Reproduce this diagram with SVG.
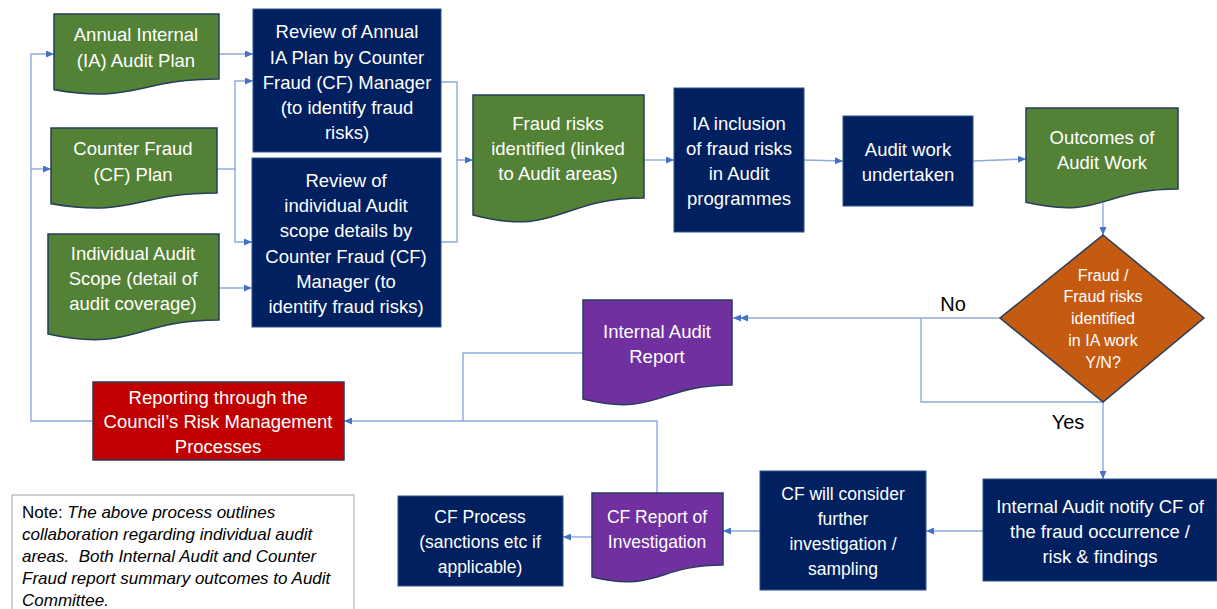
<svg xmlns="http://www.w3.org/2000/svg" width="1217" height="609" viewBox="0 0 1217 609">
<defs>
<style>
.t{font-family:"Liberation Sans",Arial,sans-serif;font-size:18.5px;fill:#fff;text-anchor:middle;dominant-baseline:central}
.s{font-size:17.5px}
.d{font-size:16px}
.lbl{font-family:"Liberation Sans",Arial,sans-serif;font-size:20px;fill:#000;text-anchor:middle;dominant-baseline:central}
.note{font-family:"Liberation Sans",Arial,sans-serif;font-size:17px;fill:#000;white-space:pre}
.green{fill:#538135;stroke:#263d5c;stroke-width:1.5}
.navy{fill:#002060;stroke:#2f528f;stroke-width:1}
.purple{fill:#7030a0;stroke:#263d5c;stroke-width:1.5}
.red{fill:#c00000;stroke:#263d5c;stroke-width:1.5}
.orange{fill:#c55a11;stroke:#263d5c;stroke-width:1.5}
.c{fill:none;stroke:#8faadc;stroke-width:1.4}
</style>
<marker id="a" viewBox="0 0 8 7" refX="8" refY="3.5" markerWidth="8" markerHeight="7" markerUnits="userSpaceOnUse" orient="auto">
<path d="M0,0 L8,3.5 L0,7 Z" fill="#4472c4"/>
</marker>
<marker id="a2" viewBox="-8 0 16 7" refX="8" refY="3.5" markerWidth="16" markerHeight="7" markerUnits="userSpaceOnUse" orient="auto">
<path d="M0,0 L8,3.5 L0,7 Z M-7,0 L1,3.5 L-7,7 Z" fill="#4472c4"/>
</marker>
</defs>
<rect width="1217" height="609" fill="#fff"/>

<g id="connectors">
<path class="c" d="M219,54 H253" marker-end="url(#a)"/>
<path class="c" d="M217,169 H235 V81 H253" marker-end="url(#a)"/>
<path class="c" d="M235,169 V242 H252" marker-end="url(#a)"/>
<path class="c" d="M219,288 H252" marker-end="url(#a)"/>
<path class="c" d="M441,82 H457 V160 H473" marker-end="url(#a)"/>
<path class="c" d="M441,242 H457 V160"/>
<path class="c" d="M644,160 H674" marker-end="url(#a)"/>
<path class="c" d="M804,160 L843,161" marker-end="url(#a)"/>
<path class="c" d="M973,161 L1026,159" marker-end="url(#a)"/>
<path class="c" d="M1103,203 V235" marker-end="url(#a)"/>
<path class="c" d="M1000,318 H733" marker-end="url(#a2)"/>
<path class="c" d="M921,318 V402 H1103"/>
<path class="c" d="M1103,402 V479" marker-end="url(#a)"/>
<path class="c" d="M983,531 H926" marker-end="url(#a)"/>
<path class="c" d="M760,531 H723" marker-end="url(#a)"/>
<path class="c" d="M592,537 H563" marker-end="url(#a)"/>
<path class="c" d="M583,353 H463 V421 H344" marker-end="url(#a)"/>
<path class="c" d="M657,493 V421 H463"/>
<path class="c" d="M93,421 H31 V54 H54" marker-end="url(#a)"/>
<path class="c" d="M31,169 H51" marker-end="url(#a)"/>
<text class="lbl" x="953" y="304">No</text>
<text class="lbl" x="1068" y="422">Yes</text>
</g>

<g id="annual-ia-plan">
<path class="green" d="M54,14 H219 V79 C136.5,79 136.5,103.7 54,89.7 Z"/>
<text class="t" x="136" y="34">Annual Internal</text>
<text class="t" x="136" y="60">(IA) Audit Plan</text>
</g>

<g id="cf-plan">
<path class="green" d="M51,128 H217 V193 C134,193 134,217.7 51,203.7 Z"/>
<text class="t" x="133" y="148">Counter Fraud</text>
<text class="t" x="133" y="174">(CF) Plan</text>
</g>

<g id="individual-scope">
<path class="green" d="M48,234 H219 V320 C133.5,320 133.5,352.6 48,334 Z"/>
<text class="t" x="133" y="253">Individual Audit</text>
<text class="t" x="133" y="278">Scope (detail of</text>
<text class="t" x="133" y="303">audit coverage)</text>
</g>

<g id="review-annual">
<rect class="navy" x="253" y="9" width="188" height="143"/>
<text class="t" x="347" y="31">Review of Annual</text>
<text class="t" x="347" y="57">IA Plan by Counter</text>
<text class="t" x="347" y="82">Fraud (CF) Manager</text>
<text class="t" x="347" y="107">(to identify fraud</text>
<text class="t" x="347" y="132">risks)</text>
</g>

<g id="review-individual">
<rect class="navy" x="252" y="158" width="189" height="169"/>
<text class="t" x="346" y="180">Review of</text>
<text class="t" x="346" y="205">individual Audit</text>
<text class="t" x="346" y="230">scope details by</text>
<text class="t" x="346" y="256">Counter Fraud (CF)</text>
<text class="t" x="346" y="281">Manager (to</text>
<text class="t" x="346" y="306">identify fraud risks)</text>
</g>

<g id="fraud-risks">
<path class="green" d="M473,95 H644 V198 C558.5,198 558.5,237.3 473,215 Z"/>
<text class="t" x="558" y="123">Fraud risks</text>
<text class="t" x="558" y="148">identified (linked</text>
<text class="t" x="558" y="173">to Audit areas)</text>
</g>

<g id="ia-inclusion">
<rect class="navy" x="674" y="88" width="130" height="144"/>
<text class="t" x="739" y="123">IA inclusion</text>
<text class="t" x="739" y="148">of fraud risks</text>
<text class="t" x="739" y="173">in Audit</text>
<text class="t" x="739" y="198">programmes</text>
</g>

<g id="audit-work">
<rect class="navy" x="843" y="116" width="130" height="90"/>
<text class="t" x="908" y="149">Audit work</text>
<text class="t" x="908" y="174">undertaken</text>
</g>

<g id="outcomes">
<path class="green" d="M1026,108 H1178 V189 C1102,189 1102,220 1026,202.3 Z"/>
<text class="t" x="1102" y="137">Outcomes of</text>
<text class="t" x="1102" y="162">Audit Work</text>
</g>

<g id="decision">
<path class="orange" d="M1103,235 L1204,318 L1103,402 L1000,318 Z"/>
<text class="t d" x="1103" y="275">Fraud /</text>
<text class="t d" x="1103" y="296">Fraud risks</text>
<text class="t d" x="1103" y="318">identified</text>
<text class="t d" x="1103" y="340">in IA work</text>
<text class="t d" x="1103" y="362">Y/N?</text>
</g>

<g id="ia-report">
<path class="purple" d="M583,300 H732 V385 C657.5,385 657.5,417.5 583,399 Z"/>
<text class="t" x="657" y="331">Internal Audit</text>
<text class="t" x="657" y="356">Report</text>
</g>

<g id="reporting">
<rect class="red" x="93" y="382" width="251" height="78"/>
<text class="t" x="218" y="397">Reporting through the</text>
<text class="t" x="218" y="421">Council’s Risk Management</text>
<text class="t" x="218" y="446">Processes</text>
</g>

<g id="notify">
<rect class="navy" x="983" y="479" width="234" height="102"/>
<text class="t" x="1100" y="506">Internal Audit notify CF of</text>
<text class="t" x="1100" y="531">the fraud occurrence /</text>
<text class="t" x="1100" y="556">risk &amp; findings</text>
</g>

<g id="cf-consider">
<rect class="navy" x="760" y="471" width="166" height="119"/>
<text class="t s" x="843" y="494">CF will consider</text>
<text class="t s" x="843" y="519">further</text>
<text class="t s" x="843" y="544">investigation /</text>
<text class="t s" x="843" y="569">sampling</text>
</g>

<g id="cf-report">
<path class="purple" d="M592,493 H723 V565 C657.5,565 657.5,592.5 592,577 Z"/>
<text class="t s" x="657" y="517">CF Report of</text>
<text class="t s" x="657" y="542">Investigation</text>
</g>

<g id="cf-process">
<rect class="navy" x="398" y="496" width="165" height="90"/>
<text class="t s" x="480" y="517">CF Process</text>
<text class="t s" x="480" y="542">(sanctions etc if</text>
<text class="t s" x="480" y="567">applicable)</text>
</g>

<g id="note">
<rect x="12" y="495" width="342" height="130" fill="#fff" stroke="#a6a6a6" stroke-width="1"/>
<text class="note" x="22" y="518">Note: <tspan font-style="italic">The above process outlines</tspan></text>
<text class="note" x="22" y="540" font-style="italic">collaboration regarding individual audit</text>
<text class="note" x="22" y="562" font-style="italic">areas.  Both Internal Audit and Counter</text>
<text class="note" x="22" y="584" font-style="italic">Fraud report summary outcomes to Audit</text>
<text class="note" x="22" y="606" font-style="italic">Committee.</text>
</g>
</svg>
